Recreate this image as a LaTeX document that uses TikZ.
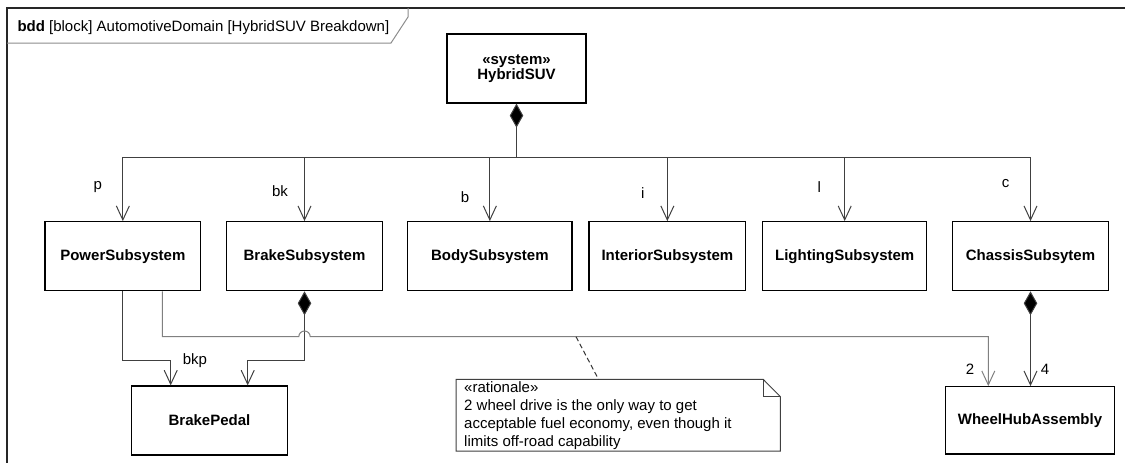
\documentclass[tikz,border=0pt]{standalone}
\usepackage{fontspec}
\setmainfont{Liberation Sans}
\usetikzlibrary{arrows.meta}
\begin{document}
\begin{tikzpicture}[x=1pt,y=-1pt,
  font=\fontsize{15}{15}\selectfont,
  block/.style={draw=black, line width=1.2pt, fill=white, inner sep=0pt,
    minimum height=69pt, align=center,
    font=\fontsize{15}{15}\selectfont\bfseries},
  lnk/.style={draw=black!75, line width=1pt},
  lnkg/.style={draw=black!50, line width=1pt},
  openhead/.style={-{Straight Barb[length=14pt,width=13pt]}},
  stemhead/.style={{Diamond[length=24pt,width=13.5pt,fill=black]}-},
  comphead/.style={{Diamond[length=24pt,width=13.5pt,fill=black]}-{Straight Barb[length=14pt,width=13pt]}},
  role/.style={inner sep=0pt, font=\fontsize{15}{15}\selectfont},
]
\useasboundingbox (0,0) rectangle (1125,463);

% diagram frame and its name tab
\draw[black!85, line width=1.4pt] (7,463) -- (7,8) -- (1125,8);
\draw[black!45, line width=1pt] (7,43) -- (391,43) -- (408,17) -- (408,8);
\node[anchor=base west, inner sep=0pt] (title) at (17.3,31.7)
  {\textbf{bdd} [block] AutomotiveDomain [HybridSUV Breakdown]};

% blocks
\node[block, minimum width=139pt] (hyb) at (516.5,68.5) {«system»\\HybridSUV};
\node[block, minimum width=155.7pt] (pw)    at (122.85,256.2) {PowerSubsystem};
\node[block, minimum width=155.6pt] (bk)    at (304.5,256.2)  {BrakeSubsystem};
\node[block, minimum width=164.3pt] (body)  at (489.85,256.2) {BodySubsystem};
\node[block, minimum width=156.7pt] (int)   at (667.35,256.2) {InteriorSubsystem};
\node[block, minimum width=164pt]   (light) at (844.7,256.2)  {LightingSubsystem};
\node[block, minimum width=155.6pt] (chas)  at (1030.5,256.2) {ChassisSubsytem};
\node[block, minimum width=155.6pt] (pedal) at (209.5,420.5)  {BrakePedal};
\node[block, minimum width=168.6pt, minimum height=67.3pt] (wheel) at (1030,420.35) {WheelHubAssembly};

% composition tree from HybridSUV
\coordinate (bus) at (516.5,157.3);
\draw[lnk, stemhead] (hyb.south) -- (bus);
\draw[lnk, openhead] (bus) -| (pw.north);
\draw[lnk, openhead] (bus) -| (bk.north);
\draw[lnk, openhead] (bus) -| (body.north);
\draw[lnk, openhead] (bus) -| (int.north);
\draw[lnk, openhead] (bus) -| (light.north);
\draw[lnk, openhead] (bus) -| (chas.north);

\node[role] (lp)  at (97.7,186.7)  {p};
\node[role] (lbk) at (280,190.7)   {bk};
\node[role] (lb)  at (465,196.7)   {b};
\node[role] (li)  at (642.7,192.7) {i};
\node[role] (ll)  at (819.3,186.7) {l};
\node[role] (lc)  at (1005.7,183.3) {c};

% connectors to BrakePedal
\coordinate (row3) at (0,360);
\draw[lnk, openhead] (pw.south) -- (pw.south |- row3) -| ([xshift=-38.8pt]pedal.north);
\draw[lnk, comphead] (bk.south) -- (bk.south |- row3) -| ([xshift=38.2pt]pedal.north);
\node[role] (lbkp) at (195,361) {bkp};

% PowerSubsystem to WheelHubAssembly, jumping over the brake connector
\coordinate (row2) at (0,336.7);
\coordinate (pwout) at ([xshift=39.5pt]pw.south);
\coordinate (whin) at ([xshift=-41.7pt]wheel.north);
\coordinate (jump) at (bk.south |- row2);
\draw[lnkg, openhead] (pwout) -- (pwout |- row2) -- ([xshift=-5.7pt]jump)
  arc[start angle=180, end angle=0, radius=5.7pt] -- (whin |- row2) -- (whin);
\node[role] (l2) at (970,369.3) {2};

% ChassisSubsytem to WheelHubAssembly
\draw[lnk, comphead] (chas.south) -- (chas.south |- wheel.north);
\node[role] (l4) at (1045,369.3) {4};

% rationale note
\node[anchor=north west, minimum width=324pt, minimum height=71.4pt, inner sep=0pt] (note) at (456,379.3) {};
\draw[black!75, line width=1pt, fill=white] (note.north west) -- ([xshift=-17.3pt]note.north east)
  -- ([yshift=-17.4pt]note.north east) -- (note.south east) -- (note.south west) -- cycle;
\draw[black!75, line width=1pt] ([xshift=-17.3pt]note.north east) |- ([yshift=-17.4pt]note.north east);
\node[anchor=north west, inner sep=0pt, align=left, font=\fontsize{15}{18}\selectfont] (notetext)
  at ([xshift=8pt,yshift=-2.4pt]note.north west)
  {«rationale»\\2 wheel drive is the only way to get\\acceptable fuel economy, even though it\\limits off-road capability};
\coordinate (anchorpt) at (576,336.7);
\draw[black!80, line width=1pt, dash pattern=on 5pt off 3pt] (anchorpt) -- ([xshift=-19.7pt]note.north);
\end{tikzpicture}
\end{document}
